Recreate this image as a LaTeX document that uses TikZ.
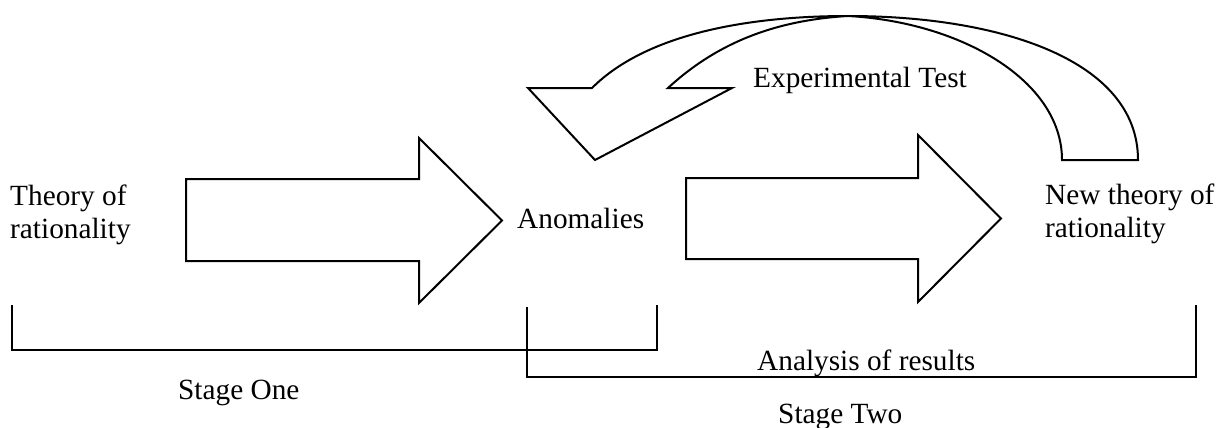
\documentclass[tikz,border=0pt]{standalone}
\usepackage{fontspec}
\setmainfont{Liberation Serif}
\begin{document}
\begin{tikzpicture}[x=1pt,y=-1pt,
  lbl/.style={inner sep=0pt, anchor=base west, font=\fontsize{29.3}{33}\selectfont, align=left},
  blockarrow/.style={draw=black, fill=white, line width=2pt, line join=miter},
  bracket/.style={draw=black, line width=2pt}]
\useasboundingbox (0,0) rectangle (1223,428);
% block arrows
\draw[blockarrow] (186,179) -- (419,179) -- (419,138) -- (502,220.5) -- (419,303) -- (419,261) -- (186,261) -- cycle;
\draw[blockarrow] (686,178) -- (918,178) -- (918,135) -- (1001,218.5) -- (918,302) -- (918,259) -- (686,259) -- cycle;
% curved feedback arrow
\draw[blockarrow] (592,88) .. controls (650,30) and (760,16) .. (848,16)
  .. controls (1000,16) and (1138,60) .. (1138,160) -- (1062,160)
  .. controls (1062,80) and (960,22) .. (848,16)
  .. controls (780,20) and (720,40) .. (668,88) -- (732,88) -- (595,160) -- (528,88) -- cycle;
% brackets
\draw[bracket] (12,305) -- (12,350) -- (657,350) -- (657,305);
\draw[bracket] (527,307) -- (527,377) -- (1196,377) -- (1196,305);
% labels
\node[lbl] (theory) at (10,238) {Theory of\\rationality};
\node[lbl] (anom) at (517,228) {Anomalies};
\node[lbl] (newth) at (1045,237) {New theory of\\rationality};
\node[lbl] (exp) at (753,87) {Experimental Test};
\node[lbl] (anal) at (757,370) {Analysis of results};
\node[lbl] (s1) at (178,399) {Stage One};
\node[lbl] (s2) at (778,423) {Stage Two};
\end{tikzpicture}
\end{document}
